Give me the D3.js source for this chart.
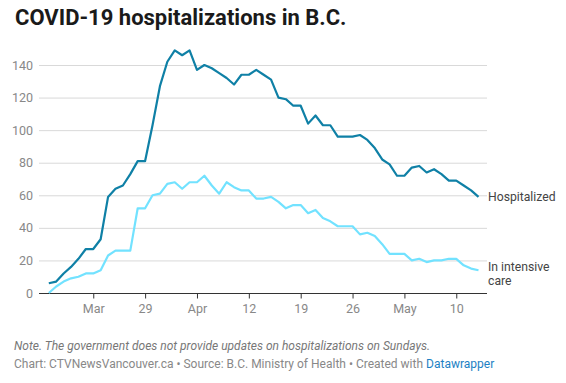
<!DOCTYPE html>
<html><head><meta charset="utf-8">
<script src="https://cdn.jsdelivr.net/npm/d3@7"></script>
<style>
body{margin:0;background:#fff;font-family:Roboto,"Noto Sans",sans-serif;}
svg{display:block}
</style></head><body>
<svg id="c" width="566" height="383"></svg>
<script>
const startDate = "2020-03-16";
const hospitalized = [6,7,12,16,21,27,27,33,59,64,66,73,81,81,103,127,142,149,146,149,137,140,138,135,132,128,134,134,137,134,131,120,119,115,115,104,109,103,103,96,96,96,97,94,89,82,79,72,72,77,78,74,76,73,69,69,66,63,59];
const icu = [0,4,7,9,10,12,12,14,23,26,26,26,52,52,60,61,67,68,64,68,68,72,66,61,68,65,63,63,58,58,59,56,52,54,54,49,51,46,44,41,41,41,36,37,35,30,24,24,24,20,21,19,20,20,21,21,17,15,14];
const yTicks = [0,20,40,60,80,100,120,140];
const xTickDates = ["2020-03-22","2020-03-29","2020-04-05","2020-04-12","2020-04-19","2020-04-26","2020-05-03","2020-05-10"];
const xTickLabels = ["Mar","29","Apr","12","19","26","May","10"];
const seriesNames = ["Hospitalized","In intensive care"];

const parse = d3.timeParse("%Y-%m-%d");
const d0 = parse(startDate);
const dates = hospitalized.map((_, i) => d3.timeDay.offset(d0, i));

const svg = d3.select("#c");
const pLeft = 39, pRight = 487, pTop = 65, pBottom = 293;

const x = d3.scaleTime()
  .domain([dates[0], dates[dates.length-1]])
  .range([48.8, 478.5]);
const y = d3.scaleLinear().domain([0,140]).range([pBottom, pTop]);

// title
svg.append("text").attr("x",15).attr("y",25)
  .attr("font-size",22).attr("font-weight",700).attr("fill","#1a1a1a")
  .text("COVID-19 hospitalizations in B.C.");

// gridlines
svg.append("g").selectAll("line").data(yTicks.filter(d=>d>0)).join("line")
  .attr("x1",pLeft).attr("x2",pRight)
  .attr("y1",d=>y(d)+0.5).attr("y2",d=>y(d)+0.5)
  .attr("stroke","#d9d9d9").attr("stroke-width",1);

// y labels
svg.append("g").selectAll("text").data(yTicks).join("text")
  .attr("x",33).attr("y",d=>y(d)+4.5).attr("text-anchor","end")
  .attr("font-size",12.5).attr("fill","#888")
  .text(d=>d);

// x axis
const xAxis = d3.axisBottom(x)
  .tickValues(xTickDates.map(parse))
  .tickFormat((d,i)=>xTickLabels[i])
  .tickSize(5).tickPadding(6).tickSizeOuter(0);
const gx = svg.append("g").attr("transform",`translate(0,${pBottom+0.5})`).call(xAxis);
gx.select(".domain").attr("stroke","#333").attr("d",`M${pLeft},0H${pRight}`);
gx.selectAll(".tick line").attr("stroke","#333");
gx.selectAll(".tick text").attr("font-size",12.5).attr("fill","#888")
  .attr("font-family","Roboto,sans-serif");

// lines
const line = d3.line().x((d,i)=>x(dates[i])).y(d=>y(d)).curve(d3.curveLinear);
svg.append("path").datum(icu).attr("d",line).attr("fill","none")
  .attr("stroke","#72e2ff").attr("stroke-width",2.2).attr("stroke-linejoin","round");
svg.append("path").datum(hospitalized).attr("d",line).attr("fill","none")
  .attr("stroke","#0f80a6").attr("stroke-width",2.2).attr("stroke-linejoin","round");

// labels
const lastI = hospitalized.length-1;
svg.append("text").attr("x",488).attr("y",y(hospitalized[lastI])+4.5)
  .attr("font-size",12.2).attr("fill","#444").text(seriesNames[0]);
const t2 = svg.append("text").attr("x",488).attr("y",y(icu[lastI])+0.5)
  .attr("font-size",12.2).attr("fill","#444");
t2.append("tspan").attr("x",488).text("In intensive");
t2.append("tspan").attr("x",488).attr("dy",14).text("care");

// footer
svg.append("text").attr("x",14).attr("y",350)
  .attr("font-size",12).attr("font-style","italic").attr("fill","#777")
  .text("Note. The government does not provide updates on hospitalizations on Sundays.");
const f = svg.append("text").attr("x",14).attr("y",368)
  .attr("font-size",12).attr("fill","#888");
f.append("tspan").text("Chart: CTVNewsVancouver.ca • Source: B.C. Ministry of Health • Created with ");
f.append("tspan").attr("fill","#1d81c4").text("Datawrapper");
</script>
</body></html>
